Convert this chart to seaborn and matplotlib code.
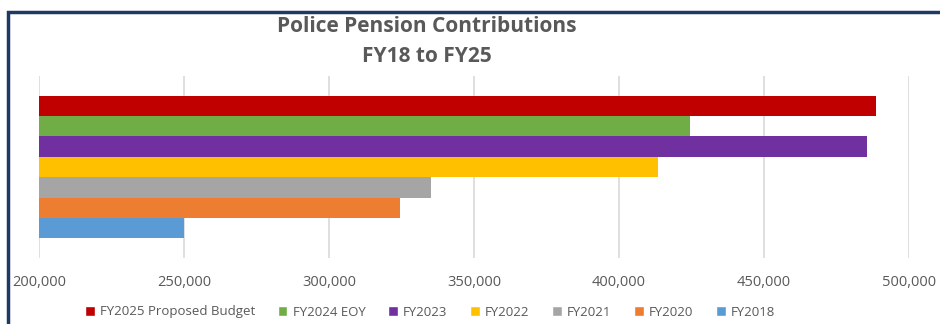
import matplotlib
matplotlib.use("Agg")
import matplotlib.pyplot as plt
import seaborn as sns
import pandas as pd
from matplotlib.patches import Rectangle

series = ["FY2025 Proposed Budget", "FY2024 EOY", "FY2023", "FY2022", "FY2021", "FY2020", "FY2018"]
values = [488500, 424500, 485500, 413500, 335000, 324500, 250000]
colors = ["#C00000", "#70AD47", "#7030A0", "#FFC000", "#A5A5A5", "#ED7D31", "#5B9BD5"]
xticks = [200000, 250000, 300000, 350000, 400000, 450000, 500000]
base = 200000

sns.set_theme(style="white")
plt.rcParams['font.family'] = ['Open Sans', 'DejaVu Sans']

df = pd.DataFrame({"cat": ["All"] * len(series), "series": series,
                   "value": [v - base for v in values]})

fig = plt.figure(figsize=(9.4, 3.24), dpi=100)
ax = fig.add_axes([39/940, 1 - 258/324, (909 - 39)/940, (258 - 76)/324])

sns.barplot(data=df, y="cat", x="value", hue="series", hue_order=series,
            palette=colors, orient="h", width=0.785, ax=ax, legend=False,
            left=base, saturation=1, linewidth=0)

ax.set_xlim(base, 500000)
ax.set_ylim(0.5, -0.5)
ax.set_xticks(xticks)
ax.set_xticklabels([f"{t:,}" for t in xticks], color="#595959", fontsize=10.5)
ax.set_yticks([])
ax.set_ylabel("")
ax.set_xlabel("")
ax.xaxis.grid(True, color="#D9D9D9", linewidth=1.2)
ax.set_axisbelow(True)
for s in ax.spines.values():
    s.set_visible(False)
ax.tick_params(axis="x", length=0, pad=12)

fig.text(427/940, 1 - 26/324, "Police Pension Contributions", ha="center", va="center",
         fontsize=15, fontweight="bold", color="#595959")
fig.text(427/940, 1 - 56/324, "FY18 to FY25", ha="center", va="center",
         fontsize=15, fontweight="bold", color="#595959")

handles = [Rectangle((0, 0), 1, 1, facecolor=c) for c in colors]
fig.legend(handles, series, loc="center", bbox_to_anchor=(430/940, 1 - 312/324), ncol=7,
           frameon=False, fontsize=9.5, handlelength=0.75, handleheight=0.75,
           handletextpad=0.4, columnspacing=1.7, labelcolor="#595959")

fig.patches.append(Rectangle((8/940, -0.1), 1.2, 1 - 12/324 + 0.1, transform=fig.transFigure,
                             fill=False, edgecolor="#1F3864", linewidth=2.5, zorder=10))

fig.savefig("out.png", dpi=100)
